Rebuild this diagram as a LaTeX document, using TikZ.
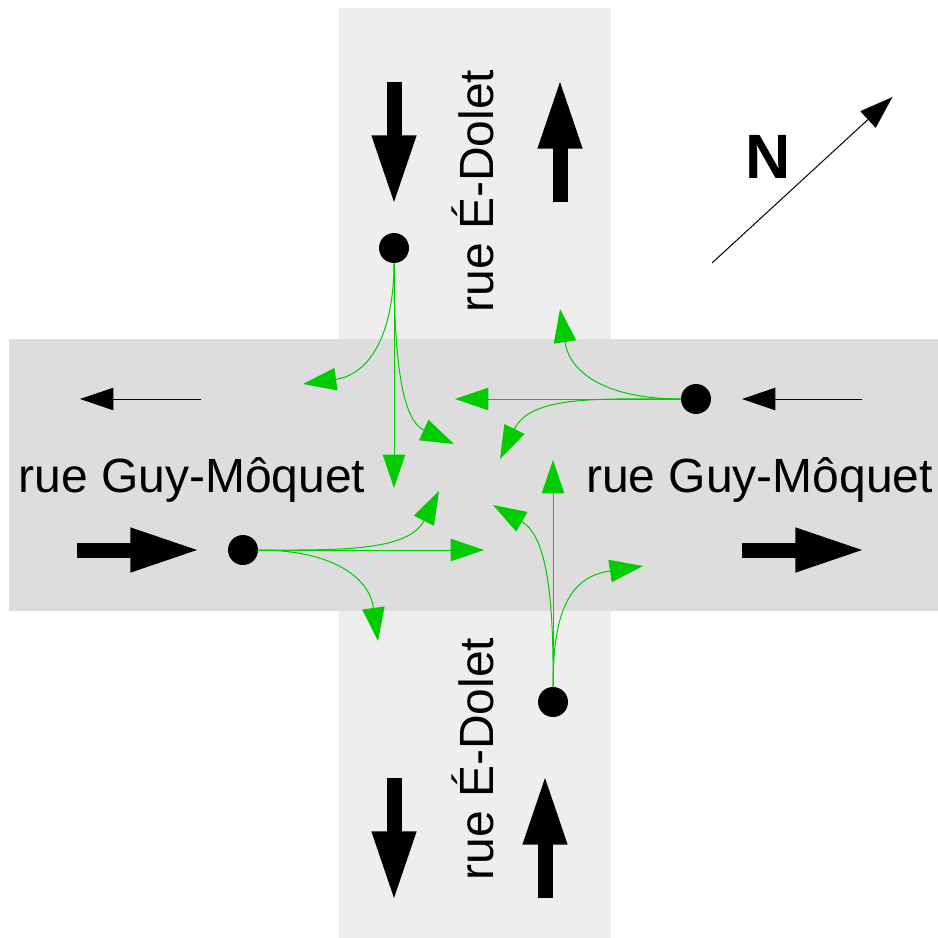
\documentclass[tikz,border=0pt]{standalone}
\usepackage{fontspec}
\setmainfont{Liberation Sans}
\usetikzlibrary{arrows.meta}
\definecolor{roadv}{HTML}{EEEEEE}
\definecolor{roadh}{HTML}{DDDDDD}
\definecolor{flow}{HTML}{00CC00}
\tikzset{
 x=0.75pt,y=-0.75pt,
 dot/.style={circle,fill=black,draw=none,inner sep=0pt,minimum size=22.5pt},
 bigshaft/.style={line width=11.25pt,draw=black,shorten >=45pt},
 bigarrow/.style={line width=11.25pt,-{Triangle[length=50pt,width=34pt,line width=0pt]},draw=black},
 thinarrow/.style={line width=0.75pt,-{Triangle[length=25pt,width=17pt,line width=0pt]},draw=black},
 flowarrow/.style={line width=0.75pt,draw=flow,-{Triangle[length=25pt,width=17pt,line width=0pt]}},
 label/.style={font=\fontsize{36pt}{40pt}\selectfont,text=black,inner sep=0pt,anchor=base},
}
\begin{document}
\begin{tikzpicture}
\useasboundingbox (0,0) rectangle (938,938);
\fill[roadv] (339,8) rectangle (611,938);
\fill[roadh] (9,339) rectangle (938,611);
% text
\node[label,rotate=90] (t1) at (493,191) {rue É-Dolet};
\node[label,rotate=90] (t2) at (493,759) {rue É-Dolet};
\node[label] (t3) at (192,492) {rue Guy-Môquet};
\node[label] (t4) at (759.5,492) {rue Guy-Môquet};
\node[font=\fontsize{47pt}{50pt}\selectfont\bfseries,inner sep=0pt] (n) at (768,157) {N};
% black arrows
\foreach \nm/\ax/\ay/\bx/\by in {a/394/82/394/202,b/560/202/560/82,c/394/778/394/898,d/545/898/545/778,e/77/550/197/550,f/742/550/862/550}{
  \coordinate (\nm s) at (\ax,\ay);
  \coordinate (\nm t) at (\bx,\by);
  \draw[bigshaft] (\nm s) -- (\nm t);
  \draw[bigarrow] (\nm s) -- (\nm t);
}
\coordinate (gs) at (201,399); \coordinate (gt) at (80,399);
\draw[thinarrow] (gs) -- (gt);
\coordinate (hs) at (862,399); \coordinate (ht) at (742,399);
\draw[thinarrow] (hs) -- (ht);
\coordinate (ns) at (712,263); \coordinate (nt) at (892.5,97);
\draw[thinarrow] (ns) -- (nt);
% dots
\node[dot] (dn) at (394,248) {};
\node[dot] (de) at (696,399) {};
\node[dot] (dw) at (243,550) {};
\node[dot] (ds) at (553,702) {};
% north dot flows
\coordinate (n1) at (303,384); \coordinate (n2) at (394,488); \coordinate (n3) at (454,444);
\draw[flowarrow] (dn.south) .. controls (394,330) and (372,374) .. (n1);
\draw[flowarrow] (dn.south) -- (n2);
\draw[flowarrow] (dn.south) .. controls (394,360) and (402,420) .. (n3);
% east dot flows
\coordinate (e1) at (560,309); \coordinate (e2) at (455,399); \coordinate (e3) at (500,459);
\draw[flowarrow] (de.west) .. controls (610,399) and (570,375) .. (e1);
\draw[flowarrow] (de.west) -- (e2);
\draw[flowarrow] (de.west) .. controls (600,399) and (531,395) .. (e3);
% west dot flows
\coordinate (w1) at (439,491); \coordinate (w2) at (484,550); \coordinate (w3) at (378,641);
\draw[flowarrow] (dw.east) .. controls (335,550) and (408,552) .. (w1);
\draw[flowarrow] (dw.east) -- (w2);
\draw[flowarrow] (dw.east) .. controls (330,550) and (369,576) .. (w3);
% south dot flows
\coordinate (s1) at (553,460); \coordinate (s2) at (493,505); \coordinate (s3) at (643,566);
\draw[flowarrow] (ds.north) -- (s1);
\draw[flowarrow] (ds.north) .. controls (554,580) and (543,534) .. (s2);
\draw[flowarrow] (ds.north) .. controls (553,610) and (570,577) .. (s3);
\end{tikzpicture}
\end{document}
